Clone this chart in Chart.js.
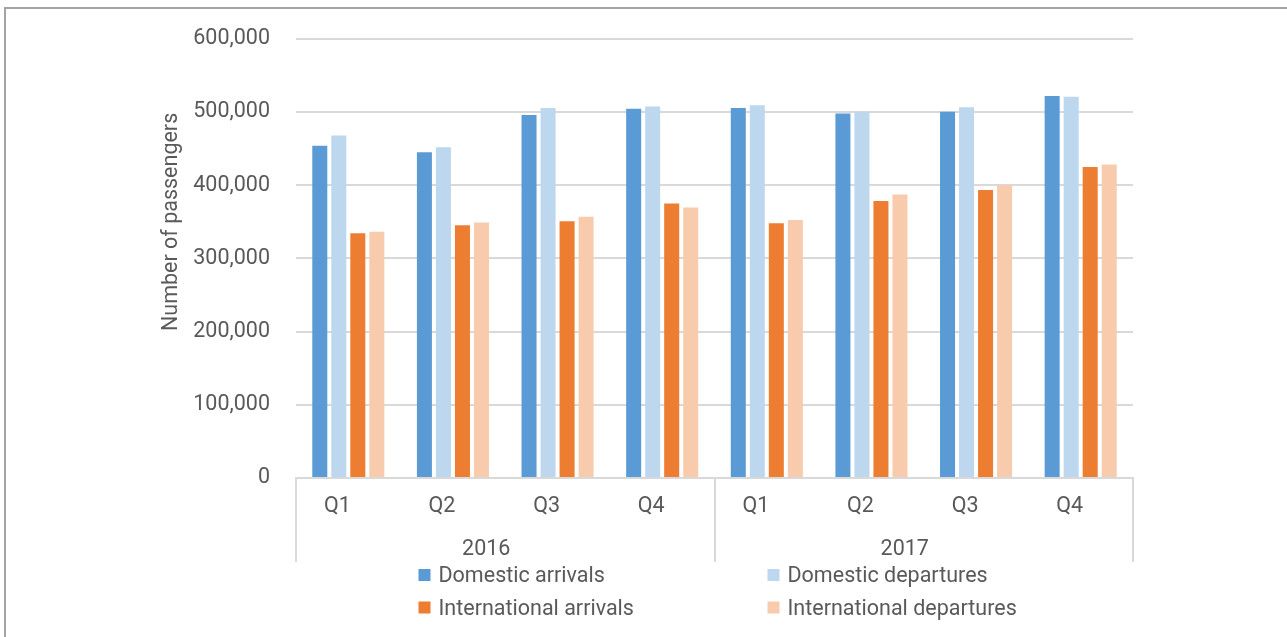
<!DOCTYPE html>
<html>
<head>
<meta charset="utf-8">
<script src="https://cdn.jsdelivr.net/npm/chart.js@4/dist/chart.umd.min.js"></script>
<style>
  html, body { margin: 0; padding: 0; background: #ffffff; overflow: hidden; }
  #wrap { position: relative; width: 1287px; height: 637px; }
  #chart { position: absolute; left: 0; top: 0; }
  #frame {
    position: absolute; left: 4px; top: 7px; width: 1400px; height: 700px;
    border-left: 2px solid #a3a3a3; border-top: 2px solid #a3a3a3;
    pointer-events: none;
  }
</style>
</head>
<body>
<div id="wrap">
  <canvas id="chart" width="1287" height="637"></canvas>
  <div id="frame"></div>
</div>
<script>
// Quarterly passenger counts, 2016–2017
const quarters = ['Q1', 'Q2', 'Q3', 'Q4', 'Q1', 'Q2', 'Q3', 'Q4'];
const years = ['2016', '2017'];
const yTicks = [0, 100000, 200000, 300000, 400000, 500000, 600000];

const domesticArrivals        = [454000, 445000, 496000, 504500, 505500, 498000, 500500, 522000];
const domesticDepartures      = [468000, 452000, 505500, 507500, 509500, 500500, 506500, 521000];
const internationalArrivals   = [334500, 345500, 351000, 375000, 348000, 378500, 393500, 425000];
const internationalDepartures = [336500, 349000, 357000, 369500, 352500, 387500, 400000, 428500];

const seriesNames = ['Domestic arrivals', 'Domestic departures', 'International arrivals', 'International departures'];
const seriesColors = ['#5B9BD5', '#BDD7EE', '#ED7D31', '#F8CBAD'];
const seriesValues = [domesticArrivals, domesticDepartures, internationalArrivals, internationalDepartures];

const TEXT = '#595959';
const GRID = '#d9d9d9';
const FONT = { family: 'Roboto', size: 21.5 };

// Rotated y-axis title
const axisTitle = {
  id: 'axisTitle',
  afterDraw(chart) {
    const ctx = chart.ctx;
    ctx.save();
    ctx.translate(172, chart.chartArea.top + 183);
    ctx.rotate(-Math.PI / 2);
    ctx.font = '21.5px Roboto';
    ctx.fillStyle = TEXT;
    ctx.textAlign = 'center';
    ctx.textBaseline = 'middle';
    ctx.fillText('Number of passengers', 0, 0);
    ctx.restore();
  }
};

// Two-column legend below the category axis
const gridLegend = {
  id: 'gridLegend',
  afterDraw(chart) {
    const ctx = chart.ctx;
    const cx = (chart.chartArea.left + chart.chartArea.right) / 2;
    const colX = [cx - 296, cx + 53];
    const rowY = [576, 608.5];
    ctx.save();
    ctx.font = '21.5px Roboto';
    ctx.textBaseline = 'middle';
    ctx.textAlign = 'left';
    chart.data.datasets.forEach((ds, i) => {
      const x = colX[i % 2];
      const y = rowY[Math.floor(i / 2)];
      ctx.fillStyle = ds.backgroundColor;
      ctx.fillRect(x, y - 7, 12, 12);
      ctx.fillStyle = TEXT;
      ctx.fillText(ds.label, x + 20, y + 1);
    });
    ctx.restore();
  }
};

new Chart(document.getElementById('chart'), {
  type: 'bar',
  data: {
    labels: quarters,
    datasets: seriesNames.map((name, i) => ({
      label: name,
      data: seriesValues[i],
      backgroundColor: seriesColors[i],
      borderWidth: 0,
      categoryPercentage: 0.727,
      barPercentage: 0.79
    }))
  },
  options: {
    responsive: false,
    animation: false,
    devicePixelRatio: 1,
    layout: { padding: { left: 0, right: 154, top: 36, bottom: 75 } },
    plugins: {
      legend: { display: false },
      tooltip: { enabled: false }
    },
    scales: {
      y: {
        min: 0,
        max: 600000,
        afterBuildTicks(scale) { scale.ticks = yTicks.map(v => ({ value: v })); },
        afterFit(scale) { scale.width = 296; },
        ticks: {
          padding: 26,
          color: TEXT,
          font: FONT,
          callback: v => v.toLocaleString('en-US')
        },
        grid: { color: GRID, lineWidth: 2, drawTicks: false },
        border: { display: false }
      },
      x: {
        afterFit(scale) { scale.height = 48; },
        ticks: {
          color: TEXT,
          font: FONT,
          padding: -32,
          labelOffset: -11,
          maxRotation: 0,
          autoSkip: false
        },
        grid: {
          offset: true,
          drawOnChartArea: false,
          tickLength: 48,
          lineWidth: 2,
          // dividers only at the year boundaries and the two ends
          color: ctx => (ctx.index === undefined || ctx.index % 4 === 0 ? GRID : 'rgba(0,0,0,0)')
        },
        border: { display: true, color: GRID, width: 2 }
      },
      years: {
        type: 'category',
        position: 'bottom',
        labels: years,
        offset: true,
        afterFit(scale) { scale.height = 36; },
        ticks: {
          color: TEXT,
          font: FONT,
          padding: -25,
          labelOffset: -19,
          maxRotation: 0,
          autoSkip: false
        },
        grid: {
          offset: true,
          drawOnChartArea: false,
          tickLength: 36,
          lineWidth: 2,
          color: GRID
        },
        border: { display: false }
      }
    }
  },
  plugins: [axisTitle, gridLegend]
});
</script>
</body>
</html>
